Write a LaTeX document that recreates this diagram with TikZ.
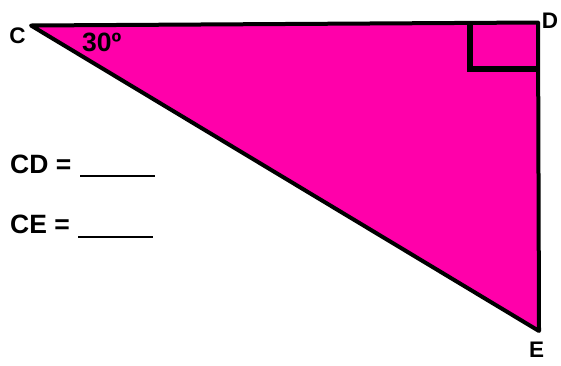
\documentclass[tikz,border=0pt]{standalone}
\usepackage{fontspec}
\setmainfont{Liberation Sans}
\definecolor{tripink}{RGB}{255,0,170}
\begin{document}
\begin{tikzpicture}[x=1pt,y=-1pt,
  vlabel/.style={font=\bfseries\fontsize{22.5}{22.5}\selectfont, inner sep=0pt},
  tlabel/.style={font=\bfseries\fontsize{26.5}{26.5}\selectfont, inner sep=0pt, anchor=base west},
  edge/.style={line width=4pt, line join=round, line cap=round}]
\useasboundingbox (0,0) rectangle (561,365);
\coordinate (C) at (31,25.5);
\coordinate (D) at (538,22.5);
\coordinate (E) at (539,331);
\fill[tripink] (C) -- (D) -- (E) -- cycle;
\coordinate (Sa) at (470,23);
\coordinate (Sb) at (470,68.5);
\coordinate (Sc) at (538,68.5);
\draw[line width=6pt] (Sa) -- (Sb) -- (Sc);
\draw[edge] (C) -- (D) -- (E) -- cycle;
\node[vlabel] (lc) at (17.5,36) {C};
\node[vlabel] (ld) at (550,20.5) {D};
\node[vlabel] (le) at (536.5,350) {E};
\node[tlabel] (ang) at (82,51) {30º};
\node[tlabel] (cd) at (10,173) {CD =};
\node[tlabel] (ce) at (10,233) {CE =};
\coordinate (b1a) at (80,176);
\coordinate (b1b) at (155,176);
\coordinate (b2a) at (78,237);
\coordinate (b2b) at (153,237);
\draw[line width=2.5pt] (b1a) -- (b1b);
\draw[line width=2.5pt] (b2a) -- (b2b);
\end{tikzpicture}
\end{document}
